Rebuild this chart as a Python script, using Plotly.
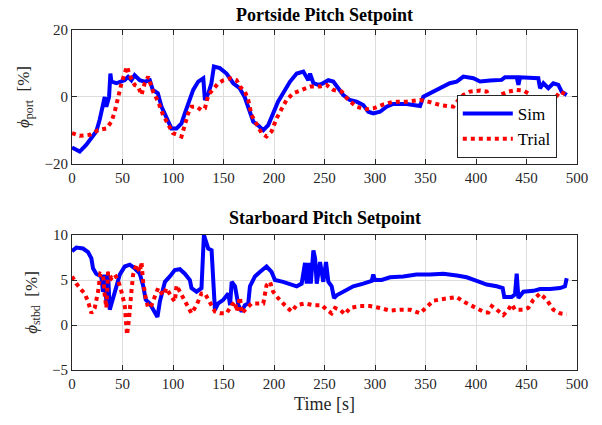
import plotly.graph_objects as go
from plotly.subplots import make_subplots

# Top: portside pitch setpoint
port_sim_t = [0, 7.6, 14, 19, 24, 27.4, 30.7, 32.4, 34, 36.7, 38, 39, 44, 49, 52, 55.5, 58.8, 62, 67, 72, 77, 80, 85,
              88.6, 93.6, 98.5, 103.5, 108.4, 111.7, 115, 120, 125, 130, 131.6, 135, 138, 140.5, 146.4, 153, 159.7,
              166, 171, 176, 179.5, 184, 189.4, 194.3, 199, 204, 209, 215.9, 222.5, 229, 234, 235.7, 239, 244, 248,
              253.8, 258.7, 263.7, 268.6, 275, 281.8, 288.4, 293.4, 298.3, 305, 311.5, 318, 331.4, 344.6, 347.9,
              354.5, 361, 367.7, 374, 380.9, 387.5, 397.4, 404, 413.9, 425.4, 428.7, 440.3, 442, 443.6, 461.7,
              463.4, 466.7, 471.6, 476.6, 481.5, 484.8, 489.8]
port_sim_v = [-15.1, -16.3, -14.3, -12.3, -10.3, -6.8, -1.9, 0, -2.9, 0, 7, 4.6, 4.1, 4.6, 5, 6.0, 5, 6.5, 5, 4.6, 5,
              2.1, 1.1, -2.9, -5.9, -9.4, -9.4, -7.9, -4.9, -1.9, 2.1, 4.6, 5.6, -0.9, 1.1, 4.1, 9.1, 8.6, 7, 4.1,
              2.6, 0, -4.9, -7.4, -8.4, -9.9, -8.4, -4.9, -1.4, 1.1, 4.6, 7.0, 7.6, 5.0, 7, 4.1, 3.6, 4.0,
              5, 4.6, 2.6, 0.6, -0.9, -1.4, -2.4, -4.4, -4.9, -4.4, -2.9, -2.1, -2.1, -2.7, 0.1,
              1.1, 2.1, 3.1, 4.1, 4.6, 6.1, 5.6, 4.6, 4.9, 5.1, 5.9, 5.9, 3.6, 5.9, 5.6,
              2.6, 4.1, 2.6, 4.1, 3.6, 1.6, 0.6]

port_trial_t = [0, 7.6, 17.5, 25.8, 34, 39, 42.3, 45.6, 49, 52, 54.5, 57, 62, 65.5, 68.8, 72, 75.4, 80.3, 85.3, 90.2,
                95.2, 100, 108.4, 111.7, 115, 118.3, 123.3, 128, 131.6, 135, 139.9, 144.8, 149.8, 156.5, 163,
                166.3, 171.2, 174.5, 177.8, 182.8, 187.7, 192.6, 197.6, 202.5, 207.5, 212.4, 219, 227.3, 235.6,
                245.5, 252, 258.7, 267, 273.6, 281.8, 290, 298.3, 306.6, 318, 331.4, 344.6, 352.8, 364.4, 377.6,
                382.5, 387.5, 394, 404, 410.6, 413.9, 418.8, 423.8, 432, 440.3, 447, 451.8, 456.8, 463.4, 473.3,
                478.2, 483.2, 489.8]
port_trial_v = [-10.8, -11.6, -11.3, -9.9, -9.4, -7.4, -4.4, 0, 4.1, 7, 9.1, 6.5, 3.6, 3.1, 0.6, 4.1, 6.1, 1.6, -1.4,
                -5.4, -8.4, -10.8, -11.8, -8.8, -4.9, -2.9, -2.9, -3.9, -3.4, 0.6, 2.6, 4.1, 5, 5.6, 5,
                3.1, 1.6, -0.9, -5.4, -8.4, -10.8, -11.8, -10.3, -6.4, -3.4, -0.9, 1.1, 2.1, 3.1,
                3.1, 3.6, 2.1, 1.6, -0.9, -2.9, -3.7, -3.4, -2.4, -1.4, -1.4, -0.9, -1.4, -2.4, -2.9,
                -0.9, 0.6, 1.6, 1.9, 1.6, -0.9, -0.4, 0.6, 1.6, 2.1, 1.9, 1.1, -0.9, -2.4, -1.9,
                -0.4, 1.6, 0.6]

# Bottom: starboard pitch setpoint
stbd_sim_t = [0, 4.3, 10.9, 15.9, 19.2, 20.8, 24, 29, 30.7, 32.4, 34, 35.7, 37.4, 40.7, 44, 47.3, 52.2, 57.2, 62.1,
              67.1, 70.4, 73, 77, 82, 84.6, 87, 92, 96.9, 101.8, 106.8, 111.7, 116.7, 118.3, 123.3, 128.2, 130.6,
              133.2, 134.9, 138.2, 139.9, 141.5, 144.8, 149.8, 154.8, 156.5, 158.1, 161.4, 164.7, 168, 171.2,
              174.5, 176.2, 181.1, 186, 192.6, 197.6, 200.9, 209, 215.9, 222.5, 227.4, 230.7, 232.4, 234, 236.4,
              239, 240.7, 242.3, 245.6, 248.8, 251.5, 253.8, 257.1, 259.4, 262, 268.6, 278.5, 288.4, 296.7,
              298.3, 300, 306.6, 314.9, 328, 341, 354.5, 367.7, 381, 390.8, 400.7, 410.6, 420.5, 426.4, 428,
              435.3, 438.6, 440.3, 442, 446.9, 456.8, 463.4, 473.3, 483.2, 488.1, 489.8]
stbd_sim_v = [8.2, 8.6, 8.5, 8.1, 7.4, 6.3, 5.7, 5.4, 3.7, 5.6, 2.6, 5.6, 1.7, 3.0, 4.4, 5.6, 6.5, 6.7, 6.3,
              5.7, 4.4, 2.8, 2.4, 1.5, 0.9, 2.6, 4.8, 5.4, 6.1, 6.2, 5.7, 5.0, 4.1, 3.7, 4.1, 10,
              8.9, 8.5, 8.3, 4.1, 1.7, 2.4, 2.8, 3.5, 2.2, 4.8, 4.3, 2.2, 1.5, 2.2,
              2.4, 4.3, 5.4, 5.9, 6.5, 5.9, 5.0, 4.8, 4.5, 4.3, 4.6, 6.9, 4.6, 6.9, 4.6,
              8.3, 7.4, 4.6, 7.0, 4.8, 7.0, 4.8, 4.3, 3.0, 3.3, 3.7, 4.3, 4.6, 4.9,
              5.6, 5.0, 5.0, 5.3, 5.4, 5.6, 5.6, 5.7, 5.5, 5.3, 4.9, 4.5, 4.3, 4.1, 3.1,
              3.1, 3.4, 5.7, 3.0, 3.7, 3.8, 4.0, 4.0, 4.1, 4.3, 5.2]

stbd_trial_t = [0, 4.3, 9.3, 12.6, 15.9, 19.2, 22.5, 25.8, 28.1, 30.7, 32.4, 34, 35.7, 39, 42.3, 45.6, 49, 52.2,
                54.5, 56.5, 58.8, 60.5, 63.8, 67.1, 68.8, 70.4, 73, 75.4, 78.7, 82, 85.3, 90.2, 93.6, 98.5,
                101.8, 103.5, 106.8, 110.1, 113.4, 118.3, 123.3, 128.2, 131.6, 136.5, 141.5, 146.4, 153, 158,
                161.4, 163, 166.3, 168, 172.9, 177.8, 184.4, 189.4, 192.6, 196, 199.2, 204, 210.8, 217.4, 222.5,
                230.7, 239, 247.3, 252, 257, 260.4, 265.3, 270.3, 275.2, 285.1, 295, 305, 314.9, 324.8, 334.7,
                344.6, 351.2, 357.8, 367.7, 381, 387.5, 397.4, 404, 409, 412.3, 415.6, 420.5, 427.1, 432, 435.3,
                438.6, 446.9, 451.8, 456.8, 463.4, 470, 476.6, 483.2, 489.8]
stbd_trial_v = [5.4, 4.6, 3.9, 3.5, 2.6, 1.3, 1.9, 3.7, 5.7, 5.6, 3.3, 1.9, 5.9, 5.2, 5.6, 5.0, 3.7, 2.2,
                -1.1, 0.7, 3.7, 5.6, 6.7, 5.9, 7.0, 4.8, 3.0, 1.9, 2.2, 3.3, 4.1, 3.3, 4.1, 3.1,
                2.6, 4.4, 3.7, 3.1, 2.2, 1.3, 2.2, 3.5, 3.5, 2.6, 1.5, 1.3, 1.3, 2.2,
                2.6, 1.5, 3.1, 1.3, 1.9, 2.4, 2.4, 2.4, 4.4, 4.8, 3.7, 3.0, 2.2, 1.5, 2.2,
                2.4, 2.2, 2.2, 1.7, 1.3, 1.9, 1.7, 1.2, 1.9, 2.1, 2.1, 1.9, 1.6, 1.7, 1.7,
                1.3, 2.0, 2.7, 2.9, 3.1, 2.6, 2.0, 1.7, 1.4, 1.4, 2.1, 1.7, 1.1, 1.7, 2.3,
                1.7, 1.7, 1.9, 2.8, 3.5, 2.8, 1.7, 1.3, 1.2]

x_ticks = [0, 50, 100, 150, 200, 250, 300, 350, 400, 450, 500]

SERIF = "Liberation Serif"
BLUE = "#0000ff"
RED = "#ff0000"

fig = make_subplots(rows=2, cols=1, vertical_spacing=0.2)

fig.add_trace(go.Scatter(x=port_sim_t, y=port_sim_v, mode="lines", name="Sim",
                         line=dict(color=BLUE, width=4)), row=1, col=1)
fig.add_trace(go.Scatter(x=port_trial_t, y=port_trial_v, mode="lines", name="Trial",
                         line=dict(color=RED, width=4, dash="dot")), row=1, col=1)
fig.add_trace(go.Scatter(x=stbd_sim_t, y=stbd_sim_v, mode="lines", showlegend=False,
                         line=dict(color=BLUE, width=4)), row=2, col=1)
fig.add_trace(go.Scatter(x=stbd_trial_t, y=stbd_trial_v, mode="lines", showlegend=False,
                         line=dict(color=RED, width=4, dash="dot")), row=2, col=1)

axis_common = dict(showline=True, linecolor="#262626", linewidth=1, mirror="ticks",
                   ticks="inside", ticklen=5, tickcolor="#262626",
                   showgrid=True, gridcolor="#dcdcdc", gridwidth=1, zeroline=False,
                   tickfont=dict(family=SERIF, size=15, color="#262626"))

fig.update_xaxes(range=[0, 500], tickvals=x_ticks, **axis_common)
fig.update_yaxes(**axis_common)

H = 425 - 30 - 55

fig.update_layout(
    width=602, height=425,
    margin=dict(l=72, r=25, t=30, b=55),
    plot_bgcolor="white", paper_bgcolor="white",
    font=dict(family=SERIF, color="#262626"),
    xaxis=dict(domain=[0, 1]),
    yaxis=dict(domain=[0.606, 1], range=[-20, 20], tickvals=[-20, 0, 20],
               title=dict(text="<i>ϕ</i><sub>port</sub>  [%]", font=dict(family=SERIF, size=17), standoff=10)),
    xaxis2=dict(title=dict(text="Time [s]", font=dict(family=SERIF, size=18), standoff=6)),
    yaxis2=dict(domain=[0, 0.397], range=[-5, 10], tickvals=[-5, 0, 5, 10],
                title=dict(text="<i>ϕ</i><sub>stbd</sub>  [%]", font=dict(family=SERIF, size=17), standoff=10)),
    legend=dict(xref="paper", yref="paper", x=0.96, y=(425 - 55 - 158) / H,
                xanchor="right", yanchor="bottom",
                bgcolor="white", bordercolor="#262626", borderwidth=1,
                font=dict(family=SERIF, size=17, color="black"),
                tracegroupgap=0, itemwidth=50),
    showlegend=True,
)

fig.add_annotation(text="<b>Portside Pitch Setpoint</b>", x=0.5, xref="paper",
                   y=(425 - 55 - 15) / H, yref="paper", yanchor="middle",
                   showarrow=False, font=dict(family=SERIF, size=18, color="black"))
fig.add_annotation(text="<b>Starboard Pitch Setpoint</b>", x=0.5, xref="paper",
                   y=(425 - 55 - 218) / H, yref="paper", yanchor="middle",
                   showarrow=False, font=dict(family=SERIF, size=18, color="black"))

fig.write_html("out.html")
